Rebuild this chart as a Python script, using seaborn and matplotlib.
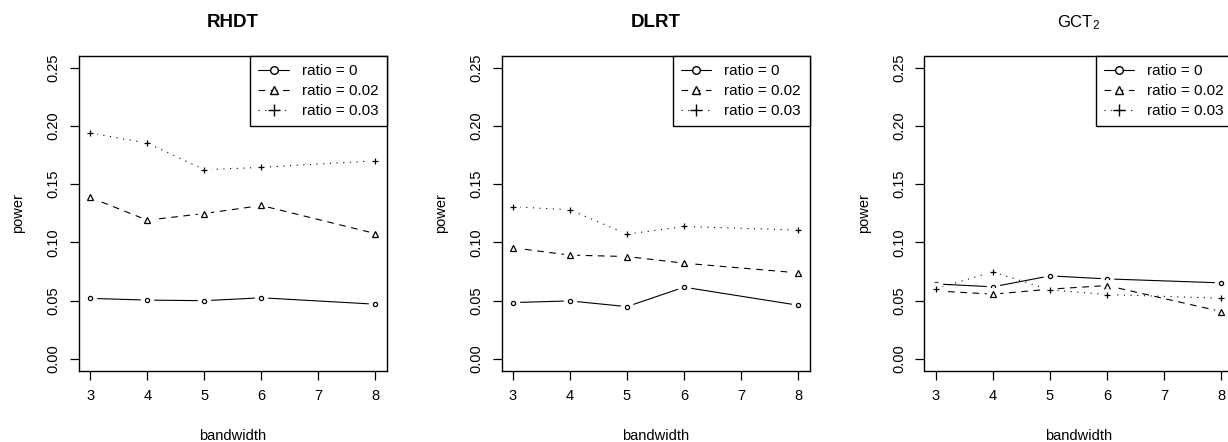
import matplotlib
matplotlib.use("Agg")
import matplotlib.pyplot as plt
from matplotlib.lines import Line2D
import seaborn as sns

# ---------------- data ----------------
bandwidth = [3, 4, 5, 6, 8]
x_ticks = [3, 4, 5, 6, 7, 8]
y_ticks = [0.00, 0.05, 0.10, 0.15, 0.20, 0.25]
titles = ["RHDT", "DLRT", r"$\mathregular{GCT_2}$"]
title_bold = [True, True, False]
ratio_labels = ["ratio = 0", "ratio = 0.02", "ratio = 0.03"]

rhdt_r0 = [0.052, 0.0505, 0.050, 0.0525, 0.047]
rhdt_r002 = [0.1386, 0.1191, 0.1248, 0.1317, 0.1076]
rhdt_r003 = [0.1939, 0.1853, 0.1624, 0.1644, 0.1701]

dlrt_r0 = [0.0484, 0.0498, 0.0449, 0.0616, 0.0461]
dlrt_r002 = [0.0954, 0.0891, 0.0879, 0.0822, 0.0739]
dlrt_r003 = [0.1306, 0.1280, 0.1071, 0.1137, 0.1106]

gct2_r0 = [0.0644, 0.0619, 0.0713, 0.0687, 0.0653]
gct2_r002 = [0.0584, 0.0556, 0.0599, 0.0630, 0.0407]
gct2_r003 = [0.0604, 0.0747, 0.0593, 0.0553, 0.0521]

panels = [
    [rhdt_r0, rhdt_r002, rhdt_r003],
    [dlrt_r0, dlrt_r002, dlrt_r003],
    [gct2_r0, gct2_r002, gct2_r003],
]

# ---------------- style ----------------
sns.set_theme(style="ticks")
plt.rcParams["font.family"] = ["Liberation Sans", "DejaVu Sans"]
plt.rcParams["mathtext.fontset"] = "custom"
plt.rcParams["mathtext.rm"] = "Liberation Sans"
plt.rcParams["text.color"] = "black"
plt.rcParams["axes.labelcolor"] = "black"

line_styles = ["-", (0, (6, 5)), (0, (1, 5))]
markers = ["o", "^", "+"]
marker_sizes = [3.0, 3.8, 5.0]
legend_marker_sizes = [5.5, 6.0, 9.0]

fig = plt.figure(figsize=(12.28, 4.42), dpi=100)
W, H = 1228.0, 442.0
box_top, box_bottom = 56.0, 370.6
box_w = 308.0
lefts = [78.8, 501.5, 924.5]

for i, (left, series) in enumerate(zip(lefts, panels)):
    ax = fig.add_axes([left / W, 1 - box_bottom / H, box_w / W, (box_bottom - box_top) / H])
    for vals, ls, mk, ms in zip(series, line_styles, markers, marker_sizes):
        sns.lineplot(x=bandwidth, y=vals, ax=ax, color="black", lw=0.8,
                     linestyle=ls)
        # gap around the point (R type = "b")
        sns.lineplot(x=bandwidth, y=vals, ax=ax, linestyle="none", marker="o",
                     markersize=9.0, markerfacecolor="white",
                     markeredgecolor="white", color="white")
        sns.lineplot(x=bandwidth, y=vals, ax=ax, linestyle="none", marker=mk,
                     markersize=ms, markerfacecolor="none",
                     markeredgecolor="black", markeredgewidth=0.9, color="black")

    ax.set_xlim(2.8, 8.2)
    ax.set_ylim(-0.01, 0.26)
    ax.set_xticks(x_ticks)
    ax.set_xticklabels([str(t) for t in x_ticks])
    ax.set_yticks(y_ticks)
    ax.set_yticklabels([f"{t:.2f}" for t in y_ticks], rotation=90, va="center")
    ax.tick_params(axis="both", direction="out", length=6.5, width=0.9,
                   labelsize=10.5, color="black", labelcolor="black", pad=6.5)
    for sp in ax.spines.values():
        sp.set_visible(True)
        sp.set_color("black")
        sp.set_linewidth(1.0)
    ax.grid(False)

    ax.set_xlabel("bandwidth", fontsize=10.5, color="black")
    ax.set_ylabel("power", fontsize=10.5, color="black")
    ax.xaxis.set_label_coords(0.5, -0.186)
    ax.yaxis.set_label_coords(-0.175, 0.5)

    if title_bold[i]:
        ax.set_title(titles[i], fontsize=13.5, fontweight="bold", pad=21,
                     color="black")
    else:
        ax.set_title(titles[i], fontsize=12, fontweight="normal", pad=21,
                     color="black")

    handles = [
        Line2D([], [], color="black", lw=0.8, linestyle=ls, marker=mk,
               markersize=lms, markerfacecolor="white", markeredgecolor="black",
               markeredgewidth=1.0)
        for ls, mk, lms in zip(line_styles, markers, legend_marker_sizes)
    ]
    leg = ax.legend(handles, ratio_labels, loc="upper right", fontsize=11,
                    frameon=True, fancybox=False, borderaxespad=0.0,
                    borderpad=0.55, labelspacing=0.38, handlelength=2.0,
                    handletextpad=0.85)
    leg.get_frame().set_edgecolor("black")
    leg.get_frame().set_linewidth(1.0)
    leg.get_frame().set_alpha(1.0)
    for t in leg.get_texts():
        t.set_color("black")

fig.savefig("out.png", dpi=100)
